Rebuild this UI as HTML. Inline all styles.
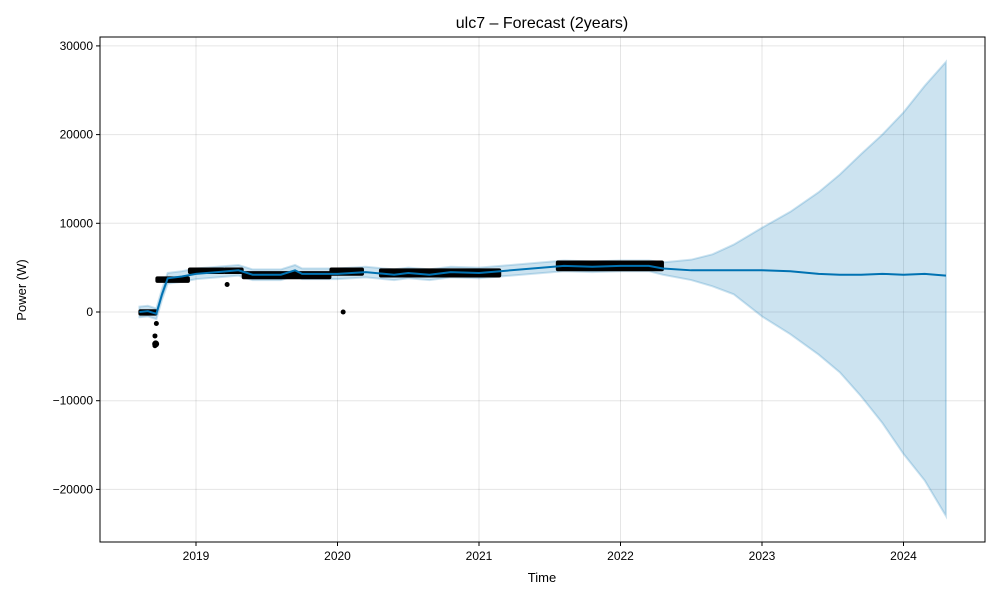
<!DOCTYPE html>
<html><head><meta charset="utf-8"><title>ulc7 Forecast</title>
<style>body{margin:0;background:#fff}svg{display:block;font-family:"Liberation Sans","DejaVu Sans",sans-serif}</style>
</head><body>
<svg id="chart" width="1000" height="600"></svg>
<script>
const xTicks=[2019,2020,2021,2022,2023,2024];
const yTicks=[-20000,-10000,0,10000,20000,30000];
const fcT=[2018.6,2018.66,2018.72,2018.76,2018.8,2018.9,2019.0,2019.15,2019.3,2019.4,2019.6,2019.7,2019.75,2020.0,2020.2,2020.4,2020.5,2020.65,2020.8,2021.0,2021.15,2021.6,2021.8,2022.0,2022.2,2022.3,2022.5,2022.65,2022.8,2023.0,2023.2,2023.4,2023.55,2023.7,2023.85,2024.0,2024.15,2024.3];
const yhat=[0,100,-200,2000,3800,4000,4300,4500,4700,4200,4200,4700,4300,4300,4500,4200,4400,4200,4500,4400,4600,5200,5100,5200,5200,4900,4700,4700,4700,4700,4600,4300,4200,4200,4300,4200,4300,4100];
const yLow=[-600,-500,-800,1400,3200,3400,3700,3900,4100,3600,3600,4100,3700,3700,3900,3600,3800,3600,3900,3800,4000,4600,4500,4600,4600,4200,3600,2900,2000,-500,-2500,-4800,-6800,-9500,-12500,-16000,-19000,-23000];
const yUp=[600,700,400,2600,4400,4600,4900,5100,5300,4800,4800,5300,4900,4900,5100,4800,5000,4800,5100,5000,5200,5800,5700,5800,5800,5600,5900,6500,7600,9500,11300,13500,15500,17800,20000,22500,25500,28200];
const obsStart=[2018.6,2018.72,2018.95,2019.2,2019.33,2019.95,2020.3,2021.55];
const obsEnd=[2018.72,2018.95,2019.2,2019.33,2019.95,2020.18,2021.15,2022.3];
const obsLow=[-300,3400,4400,4400,3800,4200,4000,4700];
const obsHigh=[200,3900,4900,4900,4500,4900,4800,5700];
const outT=[2018.71,2018.71,2018.72,2018.715,2019.22,2020.04];
const outV=[-3800,-2700,-1300,-3600,3100,0];

const NS="http://www.w3.org/2000/svg",svg=document.getElementById('chart');
const L=100,R=985,T=37,B=542;
const X=t=>196+(t-2019)*141.5;
const Y=v=>312-v*0.008870;
function mk(tag,a,p){const e=document.createElementNS(NS,tag);for(const k in a)e.setAttribute(k,a[k]);(p||svg).appendChild(e);return e;}
xTicks.forEach(t=>{
 const g=mk('line',{x1:X(t),x2:X(t),y1:T,y2:B,stroke:'#000','stroke-opacity':0.1});
 
 
 mk('line',{x1:X(t),x2:X(t),y1:B,y2:B+4,stroke:'#000'});
 const tx=mk('text',{x:X(t),y:B+18,'text-anchor':'middle','font-size':12});tx.textContent=t;
 
 
});
yTicks.forEach(v=>{
 const g=mk('line',{x1:L,x2:R,y1:Y(v),y2:Y(v),stroke:'#000','stroke-opacity':0.1});
 
 
 mk('line',{x1:L-4,x2:L,y1:Y(v),y2:Y(v),stroke:'#000'});
 const tx=mk('text',{x:L-7,y:Y(v)+4,'text-anchor':'end','font-size':12});tx.textContent=(v<0?'\u2212'+(-v):v);
 
 
});
let d='M'+fcT.map((t,i)=>X(t)+','+Y(yUp[i])).join('L');
for(let i=fcT.length-1;i>=0;i--)d+='L'+X(fcT[i])+','+Y(yLow[i]);
const band=mk('path',{d:d+'Z',fill:'#0072B2','fill-opacity':0.2,stroke:'#0072B2','stroke-opacity':0.2,'stroke-width':2});


obsStart.forEach((s,i)=>{
 const r=mk('rect',{x:X(s)-1,y:Y(obsHigh[i])-1,width:X(obsEnd[i])-X(s)+2,height:Y(obsLow[i])-Y(obsHigh[i])+2,fill:'#000',rx:2});
 
 
});
outT.forEach((t,i)=>{
 const c=mk('circle',{cx:X(t),cy:Y(outV[i]),r:(i==3?3.5:2.5),fill:'#000'});
 
 
});
const line=mk('path',{d:'M'+fcT.map((t,i)=>X(t)+','+Y(yhat[i])).join('L'),fill:'none',stroke:'#0072B2','stroke-width':2});


const fr=mk('rect',{x:L,y:T,width:R-L,height:B-T,fill:'none',stroke:'#000','stroke-width':1});


const ti=mk('text',{x:542,y:28,'text-anchor':'middle','font-size':16});ti.textContent='ulc7 \u2013 Forecast (2years)';


const xl=mk('text',{x:542,y:582,'text-anchor':'middle','font-size':13});xl.textContent='Time';


const yl=mk('text',{x:26,y:290,'text-anchor':'middle','font-size':13,transform:'rotate(-90 26 290)'});yl.textContent='Power (W)';


</script>
</body></html>
